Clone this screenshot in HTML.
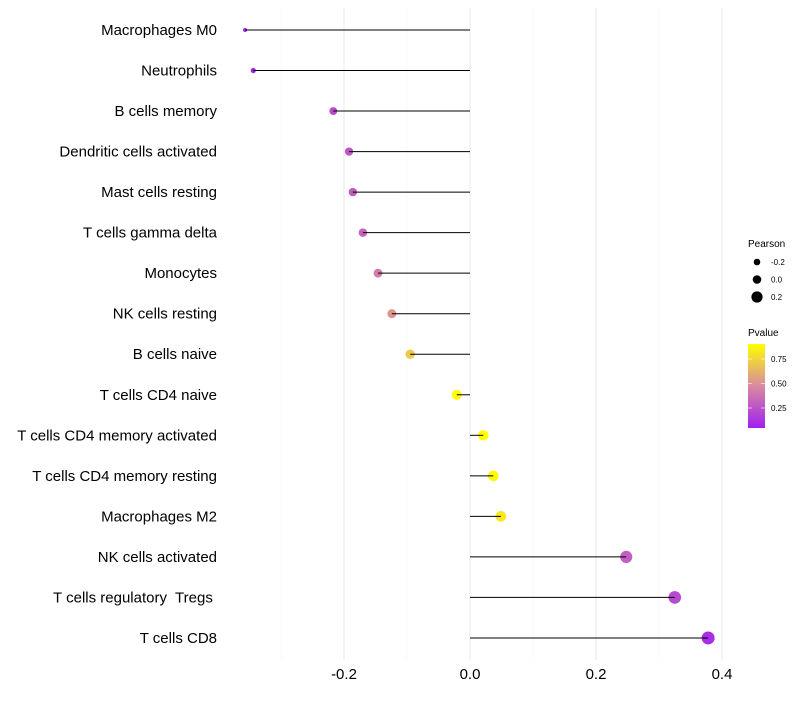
<!DOCTYPE html>
<html><head><meta charset="utf-8"><style>
body{margin:0;background:#fff;font-family:"Liberation Sans",sans-serif}
text{white-space:pre}
</style></head><body>
<svg id="chart" width="800" height="700" xmlns="http://www.w3.org/2000/svg">
<defs><linearGradient id="pg" x1="0" y1="1" x2="0" y2="0">
<stop offset="0" stop-color="#A020F0"/><stop offset="0.5" stop-color="#D98A9F"/><stop offset="1" stop-color="#FFFF00"/>
</linearGradient></defs>
<g id="grid"></g><g id="dots"></g><g id="marks"></g><g id="labels"></g>
<g font-size="10" fill="#000">
<text x="748" y="247">Pearson</text>
<g id="sizeleg"></g>
<text x="748" y="336">Pvalue</text>
<rect x="748" y="344" width="17" height="84" fill="url(#pg)"/>
<g id="cbticks"></g>
</g>
</svg>
<script>
const categories=["Macrophages M0","Neutrophils","B cells memory","Dendritic cells activated","Mast cells resting","T cells gamma delta","Monocytes","NK cells resting","B cells naive","T cells CD4 naive","T cells CD4 memory activated","T cells CD4 memory resting","Macrophages M2","NK cells activated","T cells regulatory  Tregs ","T cells CD8"];
const pearson=[-0.357,-0.344,-0.217,-0.192,-0.186,-0.170,-0.146,-0.124,-0.095,-0.021,0.021,0.037,0.049,0.248,0.325,0.378];
const pvalue=[0.05,0.06,0.22,0.26,0.28,0.32,0.42,0.52,0.7,0.95,0.93,0.88,0.82,0.3,0.22,0.1];
const xTicks=[-0.2,0.0,0.2,0.4];
const xTickLabels=["-0.2","0.0","0.2","0.4"];
const sizeLegend=[-0.2,0.0,0.2];
const cbTicks=[0.25,0.5,0.75];
const NS="http://www.w3.org/2000/svg";
const X=v=>470+v*630;
const Y=i=>30+i*40.53;
const R=p=>2+4.5*Math.sqrt(Math.max(0,(p+0.357)/0.735));
const pmin=0.046,pmax=0.903;
function lerp(a,b,t){return a.map((x,i)=>Math.round(x+(b[i]-x)*t));}
function col(p){let t=Math.max(0,Math.min(1,(p-pmin)/(pmax-pmin)));const a=[160,32,240],m=[217,138,159],b=[255,255,0];
const c=t<0.5?lerp(a,m,t*2):lerp(m,b,(t-0.5)*2);return `rgb(${c})`;}
function mk(tag,at,parent){const e=document.createElementNS(NS,tag);for(const k in at)e.setAttribute(k,at[k]);parent.appendChild(e);return e;}
const grid=document.getElementById('grid'),marks=document.getElementById('marks'),dots=document.getElementById('dots'),labels=document.getElementById('labels');
for(let v=-0.3;v<=0.41;v+=0.1){const g=mk('line',{x1:X(v),x2:X(v),y1:8,y2:660,stroke:Math.abs(Math.round(v*10))%2===0?'#ebebeb':'#f4f4f4','stroke-width':Math.abs(Math.round(v*10))%2===0?1.1:0.6},grid);

}
xTicks.forEach((v,i)=>{const t=mk('text',{x:X(v),y:679,'text-anchor':'middle','font-size':15,fill:'#000'},labels);t.textContent=xTickLabels[i];

});
categories.forEach((c,i)=>{const y=Y(i);
const t=mk('text',{x:217,y:y+5,'text-anchor':'end','font-size':15,fill:'#000'},labels);t.textContent=c;


const d=mk('circle',{cx:X(pearson[i]),cy:y,r:R(pearson[i]),fill:col(pvalue[i])},dots);


const l=mk('line',{x1:X(0),x2:X(pearson[i]),y1:y,y2:y,stroke:'#000','stroke-width':1},marks);

});
const sl=document.getElementById('sizeleg');
sizeLegend.forEach((v,i)=>{const y=262+i*17.5;
const c=mk('circle',{cx:757,cy:y,r:[3.3,4.3,5.6][i],fill:'#000'},sl);


const t=mk('text',{x:771,y:y+3,'font-size':8},sl);t.textContent=v===0?"0.0":String(v);

});
const cb=document.getElementById('cbticks');
cbTicks.forEach(v=>{const y=428-(v-pmin)/(pmax-pmin)*84;
mk('line',{x1:748,x2:752,y1:y,y2:y,stroke:'#fff','stroke-width':0.6},cb);
mk('line',{x1:761,x2:765,y1:y,y2:y,stroke:'#fff','stroke-width':0.6},cb);
const t=mk('text',{x:771,y:y+3,'font-size':8},cb);t.textContent=v.toFixed(2);

});
</script>
</body></html>
